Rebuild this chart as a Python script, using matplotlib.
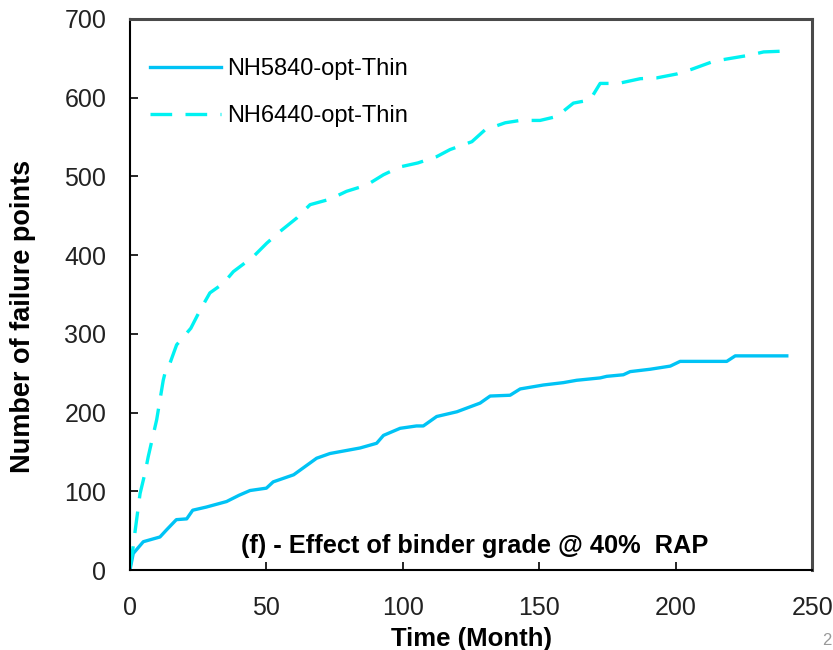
import matplotlib

matplotlib.use("Agg")
import matplotlib.pyplot as plt

plt.rcParams["font.family"] = ["Liberation Sans", "DejaVu Sans"]

# cumulative failure points vs. time (months)
t_5840 = [0, 1.2, 4.9, 11, 13.4, 17, 20.8, 23, 28, 35.4, 40, 44, 50, 52.5, 60,
          68.4, 73.3, 84.3, 90.4, 92.9, 99, 105, 107.5, 112.4, 119.8, 128.3,
          132, 139.3, 143, 151.5, 158.8, 163.7, 172.3, 174.7, 180.8, 183.3,
          190.6, 198, 201.6, 218.7, 221.8, 240.7]
n_5840 = [0, 21, 36, 42, 51, 64, 65, 76, 80, 87, 95, 101, 104, 112, 121,
          142, 148, 155, 161, 171, 180, 183, 183, 195, 201, 212,
          221, 222, 230, 235, 238, 241, 244, 246, 248, 252,
          255, 259, 265, 265, 272, 272]

t_6440 = [0, 1.2, 1.8, 3.7, 5.5, 6.7, 9.8, 11, 12.2, 13.4, 14.7, 17.1, 22.3,
          25.7, 29.3, 34.2, 37.9, 45.2, 50.1, 55, 61.1, 66, 73.3, 79.4, 86.8,
          92.9, 99, 105.5, 112.4, 117.3, 125.3, 130.1, 137.5, 143, 150.3,
          156.4, 162.5, 168.6, 172.3, 179, 187, 193, 200.4, 205.9, 213.8,
          218.7, 227.3, 232.2, 239.5]
n_6440 = [3, 30, 47, 97, 123, 144, 191, 216, 241, 258, 263, 286, 307,
          330, 352, 364, 379, 398, 415, 430, 447, 464, 471, 481, 489,
          502, 512, 517, 525, 534, 544, 559, 568, 571, 571,
          576, 593, 597, 618, 618, 624, 625, 630, 636, 646,
          649, 654, 658, 659]

x_ticks = [0, 50, 100, 150, 200, 250]
y_ticks = [0, 100, 200, 300, 400, 500, 600, 700]

fig = plt.figure(figsize=(8.33, 6.5), dpi=100)
ax = fig.add_axes([0.156, 0.123, 0.819, 0.848])

ax.plot(t_5840, n_5840, color="#00C3F5", lw=2.4, label="NH5840-opt-Thin")
ax.plot(t_6440, n_6440, color="#00F2F2", lw=2.4, ls=(0, (6.5, 4)),
        label="NH6440-opt-Thin")

ax.set_xlim(0, 250)
ax.set_ylim(0, 700)
ax.set_xticks(x_ticks)
ax.set_yticks(y_ticks)
ax.tick_params(direction="in", length=6, width=1.2, labelsize=18, pad=17,
               labelcolor="#222222")
ax.tick_params(axis="x", pad=19)

for side in ("left", "bottom"):
    ax.spines[side].set_color("black")
    ax.spines[side].set_linewidth(1.5)
for side in ("top", "right"):
    ax.spines[side].set_color("#4a4a4a")
    ax.spines[side].set_linewidth(2.2)

ax.set_xlabel("Time (Month)", fontsize=18.5, fontweight="bold", labelpad=0)
ax.xaxis.set_label_coords(0.5, -0.103)
ax.set_ylabel("Number of failure points", fontsize=19.5, fontweight="bold")
ax.yaxis.set_label_coords(-0.137, 0.46)

ax.text(0.506, 0.044, "(f) - Effect of binder grade @ 40%  RAP",
        transform=ax.transAxes, ha="center", va="center",
        fontsize=18.3, fontweight="bold")

ax.legend(loc="upper left", bbox_to_anchor=(0.03, 0.929), frameon=False,
          fontsize=17, handlelength=3.0, handletextpad=0.25,
          labelspacing=1.08, borderpad=0, borderaxespad=0)

fig.text(0.993, 0.003, "2", color="#999999", fontsize=12,
         ha="center", va="bottom")

fig.savefig("out.png", dpi=100)
plt.close(fig)
